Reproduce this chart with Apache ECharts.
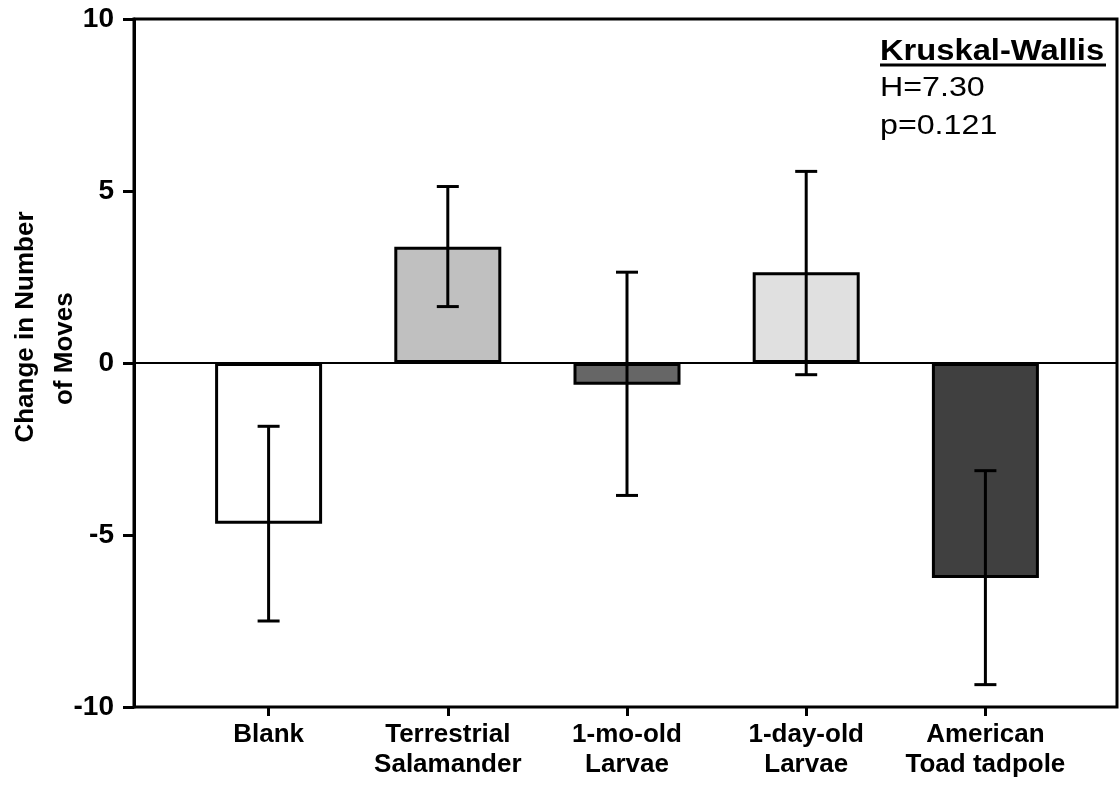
<!DOCTYPE html>
<html>
<head>
<meta charset="utf-8">
<script src="https://cdn.jsdelivr.net/npm/echarts@6/dist/echarts.min.js"></script>
<style>
html, body { margin: 0; padding: 0; background: #fff; }
#chart { width: 1119px; height: 788px; }
</style>
</head>
<body>
<div id="chart"></div>
<script>
var categories = ['Blank', 'Terrestrial\nSalamander', '1-mo-old\nLarvae', '1-day-old\nLarvae', 'American\nToad tadpole'];
var means = [-4.67, 3.38, -0.63, 2.64, -6.25];
var errLow = [-7.50, 1.64, -3.85, -0.34, -9.35];
var errHigh = [-1.84, 5.13, 2.64, 5.57, -3.13];
var barColors = ['#ffffff', '#c0c0c0', '#666666', '#e0e0e0', '#404040'];
var yTicks = { min: -10, max: 10, interval: 5 };

var FONT = '"Liberation Sans", Arial, sans-serif';

var chart = echarts.init(document.getElementById('chart'));

function errorBar(params, api) {
	var x = api.value(0);
	var lo = api.coord([x, api.value(1)]);
	var hi = api.coord([x, api.value(2)]);
	var half = 11;
	var style = { stroke: '#000', lineWidth: 3 };
	return {
		type: 'group',
		children: [
			{ type: 'line', shape: { x1: lo[0], y1: lo[1], x2: hi[0], y2: hi[1] }, style: style },
			{ type: 'line', shape: { x1: lo[0] - half, y1: lo[1], x2: lo[0] + half, y2: lo[1] }, style: style },
			{ type: 'line', shape: { x1: hi[0] - half, y1: hi[1], x2: hi[0] + half, y2: hi[1] }, style: style }
		]
	};
}

var errData = categories.map(function (c, i) { return [i, errLow[i], errHigh[i]]; });
var barData = means.map(function (v, i) {
	return { value: v, itemStyle: { color: barColors[i] } };
});

// stats box text, slightly stretched like the original
function statText(str, y, font, sx) {
	return {
		type: 'text', x: 880, y: y, scaleX: sx,
		style: { text: str, fill: '#000', font: font, verticalAlign: 'top' }
	};
}

var option = {
	animation: false,
	backgroundColor: '#fff',
	grid: [
		{ left: 134, right: 2, top: 19, bottom: 81, outerBoundsMode: 'none', show: true, borderColor: '#000', borderWidth: 3, backgroundColor: '#fff' },
		{ left: 179, right: 44, top: 19, bottom: 81, outerBoundsMode: 'none' }
	],
	xAxis: [
		{
			gridIndex: 0, type: 'value', min: 0, max: 1,
			axisLine: { onZero: true, lineStyle: { color: '#000', width: 2 } },
			axisTick: { show: false }, axisLabel: { show: false }, splitLine: { show: false }
		},
		{
			gridIndex: 1, type: 'category', data: categories,
			axisLine: { show: false, onZero: false },
			axisTick: { show: true, alignWithLabel: true, length: 9, lineStyle: { color: '#000', width: 3 } },
			axisLabel: { interval: 0, color: '#000', fontFamily: FONT, fontWeight: 'bold', fontSize: 26, lineHeight: 30, margin: 13 }
		}
	],
	yAxis: [
		{
			gridIndex: 0, type: 'value', min: yTicks.min, max: yTicks.max, interval: yTicks.interval,
			name: 'Change in Number\nof Moves      ', nameLocation: 'middle', nameGap: 50, nameMoveOverlap: false,
			nameTextStyle: { color: '#000', fontFamily: FONT, fontWeight: 'bold', fontSize: 26, lineHeight: 39, padding: [0, 0, 0, 72] },
			axisLine: { show: true, lineStyle: { color: '#000', width: 3 } },
			axisTick: { show: true, length: 11, lineStyle: { color: '#000', width: 3 } },
			axisLabel: { color: '#000', fontFamily: FONT, fontWeight: 'bold', fontSize: 28, margin: 20 },
			splitLine: { show: false }
		},
		{
			gridIndex: 1, type: 'value', min: yTicks.min, max: yTicks.max, interval: yTicks.interval,
			show: false, splitLine: { show: false }
		}
	],
	series: [
		{
			type: 'bar', xAxisIndex: 1, yAxisIndex: 1, barWidth: 107,
			itemStyle: { borderColor: '#000', borderWidth: 3 },
			data: barData
		},
		{
			type: 'custom', xAxisIndex: 1, yAxisIndex: 1, renderItem: errorBar,
			data: errData, z: 5
		}
	],
	graphic: [
		statText('Kruskal-Wallis', 37, 'bold 30px ' + FONT, 1.09),
		{ type: 'line', shape: { x1: 880, y1: 65, x2: 1106, y2: 65 }, style: { stroke: '#000', lineWidth: 3 } },
		statText('H=7.30', 74, '28px ' + FONT, 1.15),
		statText('p=0.121', 112, '28px ' + FONT, 1.15)
	]
};

chart.setOption(option);
</script>
</body>
</html>
